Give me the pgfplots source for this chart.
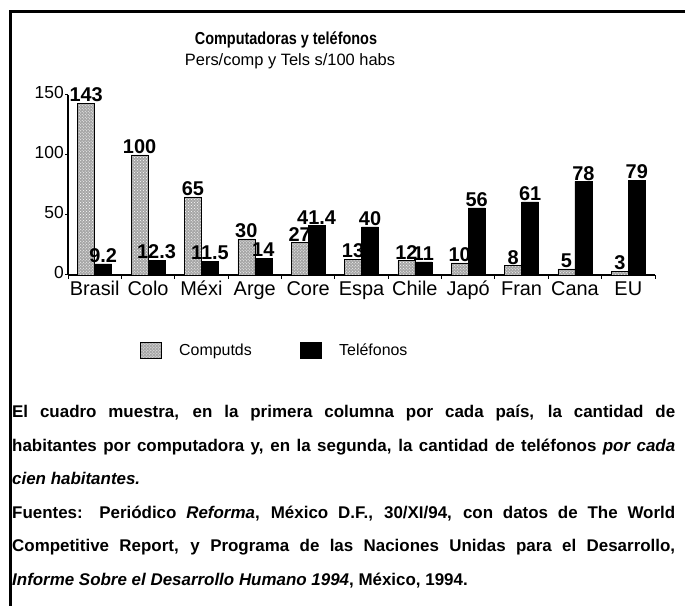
\documentclass[border=0pt]{standalone}
\usepackage{pgfplots}
\pgfplotsset{compat=1.18}
\usepackage{graphicx}
\usepackage{fontspec}
\setmainfont{Liberation Sans}
\usetikzlibrary{patterns}
\begin{document}
\begin{tikzpicture}
\useasboundingbox (0bp,0bp) rectangle (685bp,606bp);
\draw[line width=3bp] (10bp,0bp) -- (10bp,594bp) -- (685bp,594bp);
\node[font=\fontsize{14.5}{17}\selectfont\bfseries] at (286bp,566bp) {\scalebox{1}[1.2]{Computadoras y teléfonos}};
\node[font=\fontsize{16.5}{19}\selectfont] at (290bp,545bp) {Pers/comp y Tels s/100 habs};
\begin{axis}[
  at={(68bp,331bp)}, anchor=south west,
  width=587bp, height=180bp, scale only axis,
  xmin=-0.5, xmax=10.5, ymin=0, ymax=150,
  ybar=0pt, bar width=17bp,
  axis lines=left, axis line style={-, line width=1.2bp},
  /pgf/number format/assume math mode=true,
  xtick={0,...,10},
  xticklabels={Brasil,Colo,Méxi,Arge,Core,Espa,Chile,Japó,Fran,Cana,EU},
  typeset ticklabels with strut,
  minor xtick={-0.5,0.5,...,10.5},
  ytick={0,50,100,150},
  tick align=outside,
  major x tick style={draw=none},
  minor tick length=4bp, major tick length=3bp,
  tick style={line width=1bp, black},
  xticklabel style={font=\fontsize{20}{24}\selectfont, inner ysep=1bp},
  yticklabel style={font=\fontsize{17.5}{20}\selectfont, inner xsep=1bp},
  nodes near coords,
  nodes near coords style={font=\fontsize{20}{22}\selectfont\bfseries, inner sep=1bp},
  clip=false,
  legend style={at={(0.352,-0.417)}, anchor=center, draw=none, fill=none,
    legend columns=2, font=\fontsize{16}{19}\selectfont,
    /tikz/every odd column/.append style={column sep=16bp},
    /tikz/every even column/.append style={column sep=46bp}},
  legend image code/.code={\draw[#1] (0bp,-8bp) rectangle (21bp,8bp);},
]
\addplot[draw=black, fill=black!35, postaction={pattern=crosshatch dots, pattern color=white}]
  coordinates {(0,143) (1,100) (2,65) (3,30) (4,27) (5,13) (6,12) (7,10) (8,8) (9,5) (10,3)};
\addplot[draw=black, fill=black]
  coordinates {(0,9.2) (1,12.3) (2,11.5) (3,14) (4,41.4) (5,40) (6,11) (7,56) (8,61) (9,78) (10,79)};
\legend{Computds, Teléfonos}
\end{axis}
\begin{scope}[every node/.style={anchor=base west, inner sep=0pt, font=\fontsize{17}{20}\selectfont\bfseries}]
\node at (12bp,188bp) {\makebox[663bp][s]{El cuadro muestra, en la primera columna por cada país, la cantidad de}};
\node at (12bp,154.5bp) {\makebox[663bp][s]{habitantes por computadora y, en la segunda, la cantidad de teléfonos \textit{por cada}}};
\node at (12bp,121bp) {\textit{cien habitantes.}};
\node at (12bp,87.5bp) {\makebox[663bp][s]{Fuentes: Periódico \textit{Reforma}, México D.F., 30/XI/94, con datos de The World}};
\node at (12bp,54bp) {\makebox[663bp][s]{Competitive Report, y Programa de las Naciones Unidas para el Desarrollo,}};
\node at (12bp,20.5bp) {\textit{Informe Sobre el Desarrollo Humano 1994}, México, 1994.};
\end{scope}
\end{tikzpicture}
\end{document}
